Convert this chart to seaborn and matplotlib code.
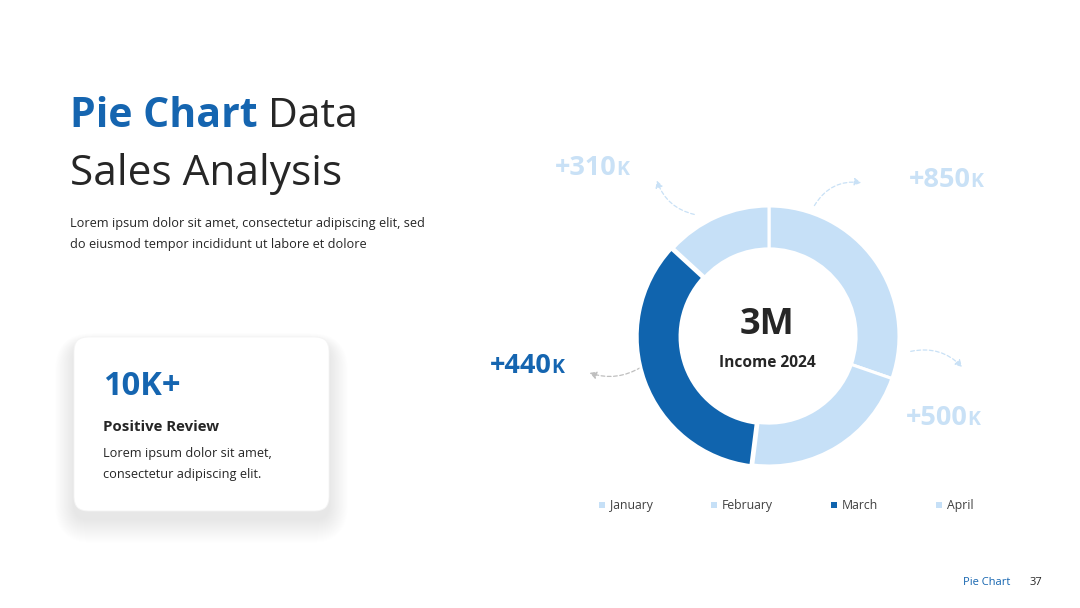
import matplotlib
matplotlib.use("Agg")
import matplotlib.pyplot as plt
import seaborn as sns
from matplotlib.patches import FancyBboxPatch, FancyArrowPatch

# ---------------- data ----------------
months = ["January", "February", "March", "April"]
shares = [30.3, 21.7, 34.8, 13.2]
gain_values = ["+850", "+500", "+440", "+310"]
gain_unit = "K"
center_value = "3M"
center_caption = "Income 2024"
review_value = "10K+"

# ---------------- style ----------------
sns.set_theme(style="white")
plt.rcParams["font.family"] = ["Open Sans", "DejaVu Sans"]

LIGHT = "#C6E0F7"
DARK = "#1064AE"
TITLE_BLUE = "#1565B0"
INK = "#262626"
slice_colors = [LIGHT, LIGHT, DARK, LIGHT]
label_colors = ["#C9E1F6", "#C9E1F6", "#1565B0", "#C9E1F6"]

W, H = 1080, 608
fig = plt.figure(figsize=(W / 100, H / 100), dpi=100, facecolor="white")

# background axes in pixel coordinates (y downwards)
bg = fig.add_axes([0, 0, 1, 1])
bg.set_xlim(0, W)
bg.set_ylim(H, 0)
bg.axis("off")

fig.canvas.draw()
renderer = fig.canvas.get_renderer()


def put(x, y, s, **kw):
    return bg.text(x, y, s, va="baseline", ha="left", **kw)


def after(t, gap=0):
    bb = t.get_window_extent(renderer=renderer)
    return bb.x1 + gap


# ---- title ----
t1 = put(70, 127, "Pie Chart", fontsize=29.5, fontweight="bold", color=TITLE_BLUE)
put(after(t1, 10), 127, "Data", fontsize=29.5, color=INK)
put(70, 185, "Sales Analysis", fontsize=30.5, color=INK)
put(70, 227, "Lorem ipsum dolor sit amet, consectetur adipiscing elit, sed",
    fontsize=9.2, color=INK)
put(70, 248, "do eiusmod tempor incididunt ut labore et dolore",
    fontsize=9.2, color=INK)

# ---- card with soft shadow ----
cx0, cy0, cw, ch = 74, 337, 255, 174
for i in range(24, 0, -1):
    sh = FancyBboxPatch((cx0 - i * 0.8, cy0 + 8 - i * 0.5), cw + i * 1.6, ch + i * 1.5,
                        boxstyle="round,pad=0,rounding_size=%d" % (14 + i),
                        facecolor="black", edgecolor="none", alpha=0.003)
    bg.add_patch(sh)
card = FancyBboxPatch((cx0, cy0), cw, ch, boxstyle="round,pad=0,rounding_size=14",
                      facecolor="white", edgecolor="#F4F4F4", linewidth=0.6)
bg.add_patch(card)
put(103, 395, review_value, fontsize=23.5, fontweight="bold", color=TITLE_BLUE)
put(103, 431, "Positive Review", fontsize=10.8, fontweight="bold", color=INK)
put(103, 457, "Lorem ipsum dolor sit amet,", fontsize=9.2, color=INK)
put(103, 478, "consectetur adipiscing elit.", fontsize=9.2, color=INK)

# ---- footer ----
put(963, 585, "Pie Chart", fontsize=8, color=TITLE_BLUE)
put(1030, 585, "37", fontsize=8, color=INK)

# ---- donut ----
pcx, pcy, R = 769, 336, 130
pie_ax = fig.add_axes([(pcx - R) / W, (H - pcy - R) / H, 2 * R / W, 2 * R / H])
wedges, _ = pie_ax.pie(shares, colors=slice_colors, startangle=90, counterclock=False,
                       explode=[0, 0, 0.015, 0],
                       wedgeprops=dict(width=0.33, edgecolor="white", linewidth=2.2))
pie_ax.set_xlim(-1, 1)
pie_ax.set_ylim(-1, 1)
pie_ax.set_aspect("equal")
pie_ax.axis("off")
put(pcx - 2, 334, center_value, fontsize=26, fontweight="bold", color=INK).set_ha("center")
put(pcx - 2, 367, center_caption, fontsize=11.2, fontweight="bold", color=INK).set_ha("center")

# ---- value labels ----
label_pos = [(909, 187), (906, 425), (490, 373), (555, 175)]
for (x, y), v, c in zip(label_pos, gain_values, label_colors):
    t = put(x, y, v, fontsize=19.5, fontweight="bold", color=c)
    put(after(t, -1), y, gain_unit, fontsize=14, fontweight="bold", color=c)

# ---- dashed arrows ----
arrows = [((813, 208), (864, 183), -0.35, "#C9E1F6"),
          ((908, 352), (964, 369), -0.3, "#C9E1F6"),
          ((643, 366), (587, 372), -0.25, "#BFBFBF"),
          ((697, 215), (656, 178), -0.3, "#C9E1F6")]
for p0, p1, rad, c in arrows:
    a = FancyArrowPatch(p0, p1, connectionstyle="arc3,rad=%f" % rad,
                        arrowstyle="-|>,head_length=4,head_width=2.2",
                        linestyle=(0, (3, 2)), linewidth=0.9, color=c)
    bg.add_patch(a)

# ---- legend (drawn along one baseline) ----
lx, ly = 599, 509
for m, c in zip(months, slice_colors):
    bg.add_patch(plt.Rectangle((lx, ly - 7), 6, 6, facecolor=c, edgecolor="none"))
    t = put(lx + 11, ly, m, fontsize=8.8, color="#404040")
    lx = after(t, 58)

fig.savefig("out.png", dpi=100, facecolor="white")
